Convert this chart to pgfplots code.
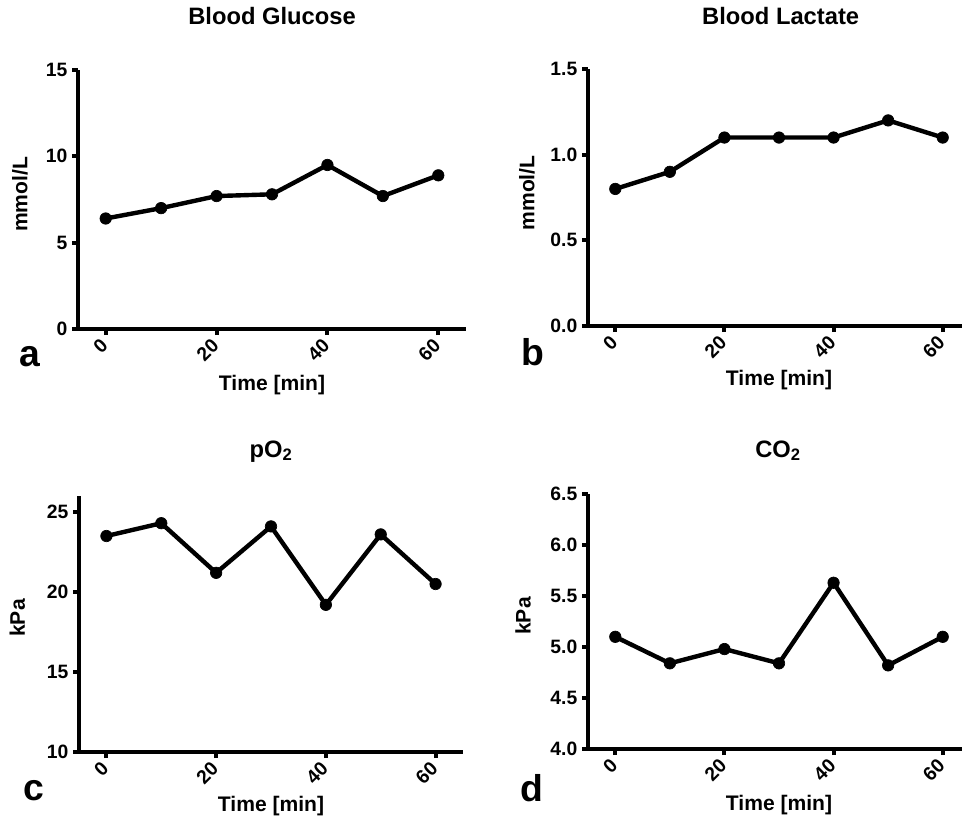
\documentclass[border=0pt]{standalone}
\usepackage{fontspec}
\setmainfont{Liberation Sans}
\usepackage{pgfplots}
\pgfplotsset{compat=1.18}

\pgfplotsset{
  prism/.style={
    scale only axis,
    axis x line=bottom, axis y line=left,
    axis line style={line width=3pt, -},
    tick align=outside,
    major tick length=4.5pt,
    tick style={black, line width=3pt},
    xmin=-5, xmax=65,
    xtick={0,20,40,60},
    /pgf/number format/assume math mode=true,
    ticklabel style={font=\bfseries\fontsize{14.5}{14.5}\selectfont},
    xticklabel style={yshift=-3pt, xshift=1.5pt, rotate=45, anchor=east},
    clip=false,
  },
  dat/.style={black, line width=3.3pt, mark=*, mark size=4.3pt, mark options={line width=0.5pt}},
}
\tikzset{
  ttl/.style={anchor=base, font=\bfseries\fontsize{17.8}{17.8}\selectfont},
  lbl/.style={anchor=base, font=\bfseries\fontsize{15.8}{15.8}\selectfont},
  ylbl/.style={rotate=90, anchor=center, font=\bfseries\fontsize{15.8}{15.8}\selectfont},
  pnl/.style={anchor=base, font=\bfseries\fontsize{28}{28}\selectfont},
}

\begin{document}
\begin{tikzpicture}
\useasboundingbox (0,0) rectangle (721.5pt,-612.75pt);

% a: blood glucose
\begin{axis}[prism, at={(58.5pt,-246.75pt)}, anchor=south west,
  width=291pt, height=194.25pt, ymin=0, ymax=15, ytick={0,5,10,15}]
\addplot[dat] coordinates {(0,6.4)(10,7.0)(20,7.7)(30,7.8)(40,9.5)(50,7.7)(60,8.9)};
\end{axis}

% b: blood lactate
\begin{axis}[prism, at={(441pt,-244.5pt)}, anchor=south west,
  width=286.5pt, height=192.75pt, ymin=0, ymax=1.5, ytick={0,0.5,1.0,1.5},
  yticklabel style={/pgf/number format/.cd, fixed, fixed zerofill, precision=1}]
\addplot[dat] coordinates {(0,0.8)(10,0.9)(20,1.1)(30,1.1)(40,1.1)(50,1.2)(60,1.1)};
\end{axis}

% c: pO2
\begin{axis}[prism, at={(59.25pt,-564pt)}, anchor=south west,
  width=288pt, height=192pt, ymin=10, ymax=26, ytick={10,15,20,25}]
\addplot[dat] coordinates {(0,23.5)(10,24.3)(20,21.2)(30,24.1)(40,19.2)(50,23.6)(60,20.5)};
\end{axis}

% d: CO2
\begin{axis}[prism, at={(441pt,-561.75pt)}, anchor=south west,
  width=286.5pt, height=191.25pt, ymin=4, ymax=6.5, ytick={4,4.5,5,5.5,6,6.5},
  yticklabel style={/pgf/number format/.cd, fixed, fixed zerofill, precision=1}]
\addplot[dat] coordinates {(0,5.1)(10,4.84)(20,4.98)(30,4.84)(40,5.63)(50,4.82)(60,5.1)};
\end{axis}

% titles
\node[ttl] at (204pt,-18.75pt) {Blood Glucose};
\node[ttl] at (585.5pt,-18.75pt) {Blood Lactate};
\node[ttl] at (203.25pt,-342.75pt) {pO\textsubscript{2}};
\node[ttl] at (583.5pt,-342.75pt) {CO\textsubscript{2}};

% axis labels
\node[lbl] at (204pt,-292.5pt) {Time [min]};
\node[lbl] at (584.25pt,-288.75pt) {Time [min]};
\node[lbl] at (203.25pt,-608.25pt) {Time [min]};
\node[lbl] at (584.25pt,-607.5pt) {Time [min]};
\node[ylbl] at (15pt,-145.9pt) {mmol/L};
\node[ylbl] at (395.25pt,-144.75pt) {mmol/L};
\node[ylbl] at (13.1pt,-463.5pt) {kPa};
\node[ylbl] at (392.25pt,-462pt) {kPa};

% panel letters
\node[pnl] at (22.5pt,-274.5pt) {a};
\node[pnl] at (399.75pt,-273.75pt) {b};
\node[pnl] at (25.5pt,-600pt) {c};
\node[pnl] at (399pt,-600.75pt) {d};
\end{tikzpicture}
\end{document}
